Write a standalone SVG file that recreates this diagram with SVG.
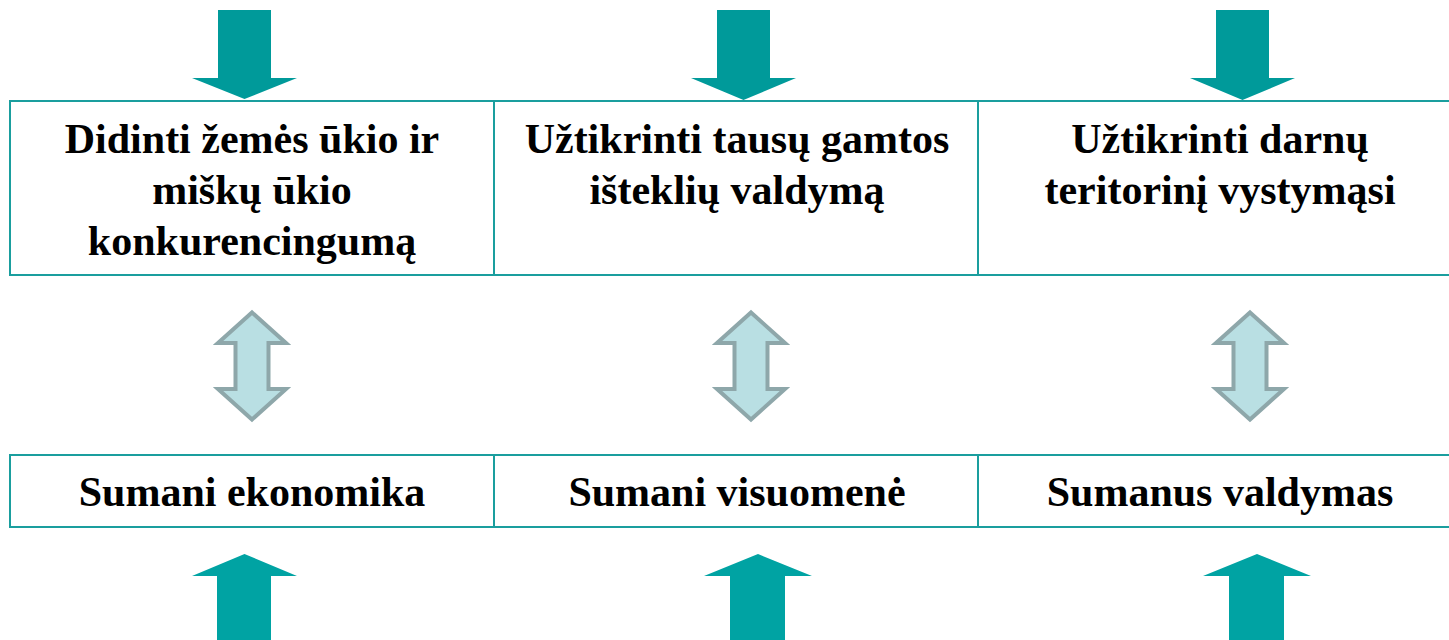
<svg xmlns="http://www.w3.org/2000/svg" width="1449" height="640" viewBox="0 0 1449 640">
<style>
.box{fill:#ffffff;stroke:#1a9e9e;stroke-width:2}
.t{font-family:'Liberation Serif',serif;font-weight:700;font-size:42px;fill:#000;text-anchor:middle}
.down{fill:#009a9a}
.up{fill:#00a3a3}
.dbl{fill:#b9dfe3;stroke:#8ea7aa;stroke-width:4;stroke-linejoin:miter}
</style>
<rect width="1449" height="640" fill="#ffffff"/>
<g id="connectors">
<polygon class="down" points="218,10 271,10 271,78 297,78 244.5,99 192,78 218,78"/>
<polygon class="down" points="717,10 770,10 770,78 796,78 743.5,100 691,78 717,78"/>
<polygon class="down" points="1216,10 1269,10 1269,78 1295,78 1242.5,100 1190,78 1216,78"/>
<polygon class="dbl" points="252,312.5 286,343 268.5,343 268.5,389 286,389 252,419.5 218,389 235.5,389 235.5,343 218,343"/>
<polygon class="dbl" points="751,312.5 785,343 767.5,343 767.5,389 785,389 751,419.5 717,389 734.5,389 734.5,343 717,343"/>
<polygon class="dbl" points="1250,312.5 1284,343 1266.5,343 1266.5,389 1284,389 1250,419.5 1216,389 1233.5,389 1233.5,343 1216,343"/>
<polygon class="up" points="244.5,554 297,576 271,576 271,645 217,645 217,576 192,576"/>
<polygon class="up" points="758,554 812,576 785,576 785,645 730,645 730,576 704,576"/>
<polygon class="up" points="1257,554 1311,576 1284,576 1284,645 1229,645 1229,576 1203,576"/>
</g>
<g id="node-top-1">
<rect class="box" x="10" y="101" width="484" height="174"/>
<text class="t" font-family="Liberation Serif" x="252" y="153">Didinti žemės ūkio ir</text>
<text class="t" font-family="Liberation Serif" x="252" y="204">miškų ūkio</text>
<text class="t" font-family="Liberation Serif" x="252" y="255">konkurencingumą</text>
</g>
<g id="node-top-2">
<rect class="box" x="494" y="101" width="484" height="174"/>
<text class="t" font-family="Liberation Serif" x="737" y="153">Užtikrinti tausų gamtos</text>
<text class="t" font-family="Liberation Serif" x="737" y="204">išteklių valdymą</text>
</g>
<g id="node-top-3">
<rect class="box" x="978" y="101" width="484" height="174"/>
<text class="t" font-family="Liberation Serif" x="1220" y="153">Užtikrinti darnų</text>
<text class="t" font-family="Liberation Serif" x="1220" y="204">teritorinį vystymąsi</text>
</g>
<g id="node-bottom-1">
<rect class="box" x="10" y="455" width="484" height="72"/>
<text class="t" font-family="Liberation Serif" x="252" y="506">Sumani ekonomika</text>
</g>
<g id="node-bottom-2">
<rect class="box" x="494" y="455" width="484" height="72"/>
<text class="t" font-family="Liberation Serif" x="737" y="506">Sumani visuomenė</text>
</g>
<g id="node-bottom-3">
<rect class="box" x="978" y="455" width="484" height="72"/>
<text class="t" font-family="Liberation Serif" x="1220" y="506">Sumanus valdymas</text>
</g>
</svg>
